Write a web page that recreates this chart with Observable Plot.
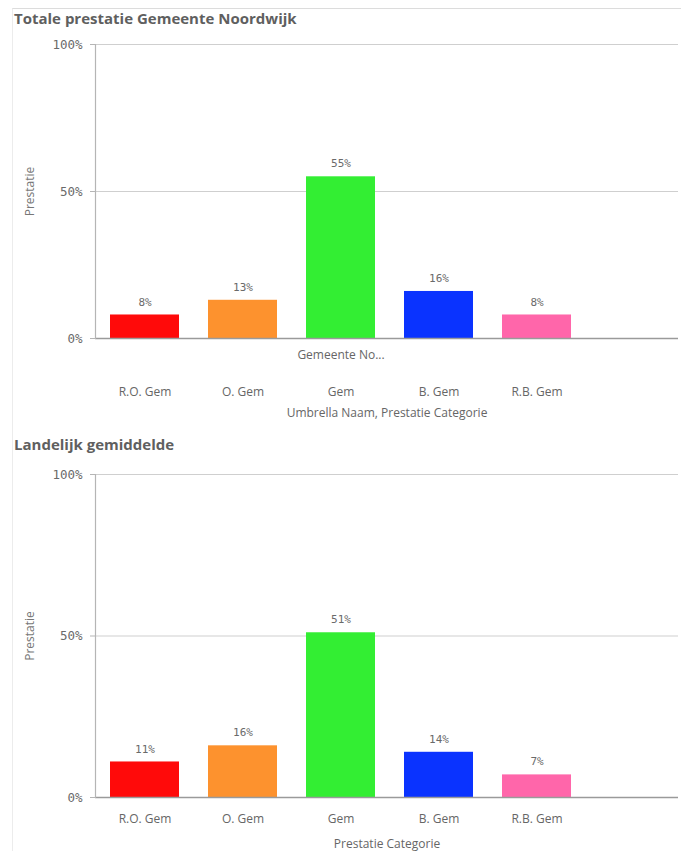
<!DOCTYPE html>
<html>
<head>
<meta charset="utf-8">
<script src="https://cdn.jsdelivr.net/npm/d3@7"></script>
<script src="https://cdn.jsdelivr.net/npm/@observablehq/plot@0.6"></script>
<style>
  html, body { margin: 0; padding: 0; background: #fff; }
  body { width: 686px; height: 851px; position: relative; overflow: hidden; font-family: "Open Sans", sans-serif; }
  .sheet { position: absolute; left: 12px; top: 8px; width: 668px; height: 843px; border-top: 1px solid #dcdcdc; border-left: 1px solid #ececec; }
  .title { position: absolute; left: 14px; font-weight: 700; font-size: 15px; color: #5f5f5f; white-space: nowrap; }
  .chart { position: absolute; left: 0; }
  .chart svg { display: block; }
</style>
</head>
<body>
<div class="sheet"></div>
<div class="title" style="top:8px">Totale prestatie Gemeente Noordwijk</div>
<div class="chart" id="c1" style="top:30px"></div>
<div class="title" style="top:434px">Landelijk gemiddelde</div>
<div class="chart" id="c2" style="top:460px"></div>
<script>
// Prestatie categories and their bar colours
const categories = ["R.O. Gem", "O. Gem", "Gem", "B. Gem", "R.B. Gem"];
const colors = ["#ff0a0a", "#fd922e", "#33ee33", "#0a33ff", "#ff66aa"];

// Share per category, Gemeente Noordwijk
const noordwijk = [0.08, 0.13, 0.55, 0.16, 0.08];
// Share per category, national average
const landelijk = [0.11, 0.16, 0.51, 0.14, 0.07];

const yTicks = [0, 0.5, 1];
const yLabel = "Prestatie";
const umbrellaLabel = "Gemeente No...";

const mono = "'DejaVu Sans Mono', monospace";
const sans = "'Open Sans', sans-serif";
const pct = d3.format(".0%");

function chart({values, height, marginTop, marginBottom, tickPadding, xLabel, labelOffset, group}) {
  const data = categories.map((c, i) => ({cat: c, value: values[i], color: colors[i]}));
  const width = 686, marginLeft = 95, marginRight = 8;
  const marks = [
    Plot.ruleY([0.5, 1], {stroke: "#cfcfcf", strokeWidth: 1.2}),
    Plot.barY(data, {x: "cat", y: "value", fill: "color"}),
    Plot.ruleY([0], {stroke: "#9a9a9a", strokeWidth: 1.4}),
    Plot.frame({anchor: "left", stroke: "#b5b5b5", strokeWidth: 1.2}),
    Plot.text(data, {x: "cat", y: "value", text: d => pct(d.value), dy: -13,
      fontFamily: mono, fontSize: 11, fill: "#6a6a6a"}),
    Plot.axisY({ticks: yTicks, tickFormat: pct, tickSize: 5, tickPadding: 8,
      stroke: "#b5b5b5", fontFamily: mono, fontSize: 12.5, color: "#6a6a6a", label: null}),
    Plot.text([yLabel], {frameAnchor: "left", dx: -65, rotate: -90, textAnchor: "middle",
      text: d => d, fontFamily: sans, fontSize: 12, fill: "#777"}),
    Plot.axisX({tickSize: 0, tickPadding, fontFamily: sans, fontSize: 12, color: "#666",
      label: xLabel, labelAnchor: "center", labelOffset})
  ];
  if (group) {
    marks.push(Plot.text([group], {x: () => "Gem", frameAnchor: "bottom", dy: 20,
      text: d => d, fontFamily: sans, fontSize: 12, fill: "#666"}));
  }
  return Plot.plot({
    width, height, marginLeft, marginRight, marginTop, marginBottom,
    style: {fontFamily: sans, fontSize: "12px", color: "#666", background: "transparent"},
    x: {domain: categories, range: [marginLeft, 585], paddingInner: 0.3, paddingOuter: 0.15, label: null},
    y: {domain: [0, 1], label: null},
    marks
  });
}

document.getElementById("c1").append(chart({
  values: noordwijk, height: 392, marginTop: 14, marginBottom: 84,
  tickPadding: 49, xLabel: "Umbrella Naam, Prestatie Categorie", labelOffset: 78,
  group: umbrellaLabel
}));
document.getElementById("c2").append(chart({
  values: landelijk, height: 391, marginTop: 14, marginBottom: 54,
  tickPadding: 17, xLabel: "Prestatie Categorie", labelOffset: 50
}));
</script>
</body>
</html>
